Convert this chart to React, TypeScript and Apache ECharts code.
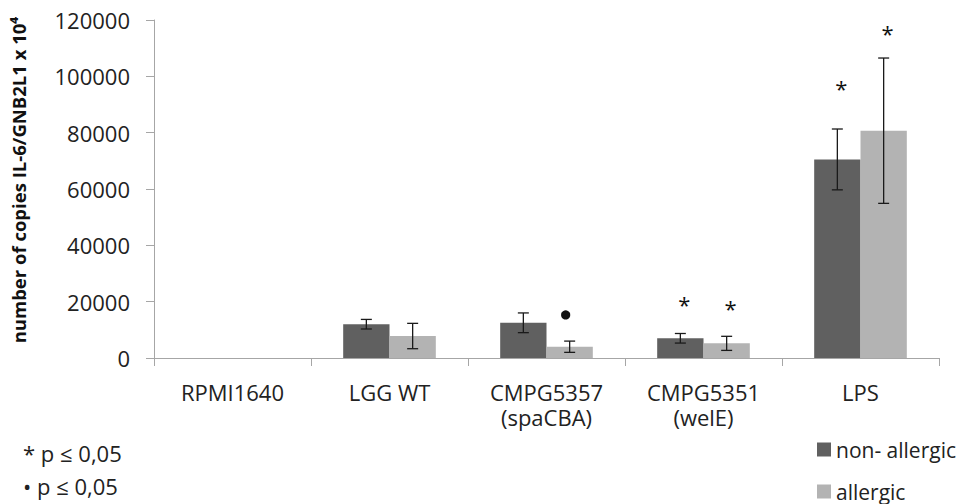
import React, { useEffect, useRef } from "react";
import * as echarts from "echarts";

// Stimulation conditions along the x axis
const categories = ["RPMI1640", "LGG WT", "CMPG5357\n(spaCBA)", "CMPG5351\n(welE)", "LPS"];

// Mean IL-6 copies (per GNB2L1 x 10^4) and standard errors
const nonAllergic = [0, 12000, 12500, 7000, 70500];
const nonAllergicErr = [0, 1700, 3500, 1700, 10800];
const allergic = [0, 7800, 4000, 5200, 80700];
const allergicErr = [0, 4500, 2000, 2500, 25800];

// Significance marks: [category index, height on value axis, mark]
const nonAllergicSig: [number, number, string][] = [
  [3, 19500, "*"],
  [4, 96200, "*"],
];
const allergicSig: [number, number, string][] = [
  [2, 15300, "dot"],
  [3, 18200, "*"],
  [4, 115700, "*"],
];

const yTicks = [0, 20000, 40000, 60000, 80000, 100000, 120000];

const FONT = "'Open Sans', 'Noto Sans', sans-serif";
const DARK = "#606060";
const LIGHT = "#b3b3b3";
const CATEGORY_GAP = 0.41;

// Horizontal offset from category centre to the centre of one of the two bars
function sideOffset(bandWidth: number, side: number) {
  const barWidth = (bandWidth * (1 - CATEGORY_GAP)) / 2;
  return side * (barWidth / 2);
}

function errorSeries(values: number[], errs: number[], side: number) {
  return {
    type: "custom",
    silent: true,
    z: 5,
    data: values.map((v, i) => [i, v, errs[i]]),
    renderItem: (params: any, api: any) => {
      const idx = api.value(0);
      const v = api.value(1);
      const e = api.value(2);
      if (!e) return null;
      const band = api.size([1, 0])[0];
      const dx = sideOffset(band, side);
      const hi = api.coord([idx, v + e]);
      const lo = api.coord([idx, v - e]);
      const x = hi[0] + dx;
      const cap = 5.5;
      const style = { stroke: "#1a1a1a", lineWidth: 1.3 };
      return {
        type: "group",
        children: [
          { type: "line", shape: { x1: x, y1: hi[1], x2: x, y2: lo[1] }, style },
          { type: "line", shape: { x1: x - cap, y1: hi[1], x2: x + cap, y2: hi[1] }, style },
          { type: "line", shape: { x1: x - cap, y1: lo[1], x2: x + cap, y2: lo[1] }, style },
        ],
      };
    },
  };
}

function sigSeries(marks: [number, number, string][], side: number) {
  return {
    type: "custom",
    silent: true,
    z: 6,
    data: marks.map((m) => [m[0], m[1], m[2] === "dot" ? 1 : 0]),
    renderItem: (params: any, api: any) => {
      const idx = api.value(0);
      const v = api.value(1);
      const isDot = api.value(2) === 1;
      const band = api.size([1, 0])[0];
      const p = api.coord([idx, v]);
      const cx = p[0] + sideOffset(band, side);
      if (isDot) {
        return { type: "circle", shape: { cx: cx - 4, cy: p[1], r: 4.6 }, style: { fill: "#111" } };
      }
      return {
        type: "text",
        style: {
          x: cx + 4,
          y: p[1] + 1,
          text: "*",
          fill: "#111",
          font: `22px ${FONT}`,
          align: "center",
          verticalAlign: "middle",
        },
      };
    },
  };
}

function legendEntry(name: string, color: string, top: number) {
  return {
    orient: "vertical",
    left: 817,
    top,
    padding: 0,
    itemWidth: 14,
    itemHeight: 14,
    icon: "rect",
    selectedMode: false,
    textStyle: { fontFamily: FONT, fontSize: 21, color: "#222", lineHeight: 21 },
    data: [{ name, itemStyle: { color } }],
  };
}

export default function App() {
  const ref = useRef<HTMLDivElement>(null);

  useEffect(() => {
    if (!ref.current) return;
    const chart = echarts.init(ref.current, undefined, { renderer: "svg" });
    chart.setOption({
      animation: false,
      backgroundColor: "#ffffff",
      grid: { left: 154, right: 26, top: 20, bottom: 146, containLabel: false },
      legend: [
        legendEntry("non- allergic", DARK, 439),
        legendEntry("allergic", LIGHT, 481),
      ],
      xAxis: {
        type: "category",
        data: categories,
        axisLine: { lineStyle: { color: "#a6a6a6", width: 1 } },
        axisTick: { show: true, length: 8, inside: false, alignWithLabel: false, lineStyle: { color: "#a6a6a6" } },
        axisLabel: {
          fontFamily: FONT,
          fontSize: 22,
          color: "#222",
          lineHeight: 25,
          margin: 21,
          interval: 0,
        },
      },
      yAxis: {
        type: "value",
        min: 0,
        max: 120000,
        interval: 20000,
        splitLine: { show: false },
        axisLine: { show: true, lineStyle: { color: "#a6a6a6", width: 1 } },
        axisTick: { show: true, length: 8, lineStyle: { color: "#a6a6a6" } },
        axisLabel: {
          fontFamily: FONT,
          fontSize: 22,
          color: "#222",
          margin: 24,
          formatter: (v: number) => (yTicks.includes(v) ? String(v) : ""),
        },
      },
      series: [
        {
          name: "non- allergic",
          type: "bar",
          data: nonAllergic,
          barGap: "0%",
          barCategoryGap: `${CATEGORY_GAP * 100}%`,
          itemStyle: { color: DARK },
        },
        {
          name: "allergic",
          type: "bar",
          data: allergic,
          barGap: "0%",
          barCategoryGap: `${CATEGORY_GAP * 100}%`,
          itemStyle: { color: LIGHT },
        },
        errorSeries(nonAllergic, nonAllergicErr, -1),
        errorSeries(allergic, allergicErr, 1),
        sigSeries(nonAllergicSig, -1),
        sigSeries(allergicSig, 1),
      ],
      graphic: [
        {
          type: "text",
          x: 18,
          y: 180,
          rotation: Math.PI / 2,
          style: {
            text: "number of copies IL-6/GNB2L1 x 10\u2074",
            font: `bold 18.5px ${FONT}`,
            fill: "#111",
            align: "center",
            verticalAlign: "middle",
          },
        },
        {
          type: "text",
          x: 23,
          y: 453,
          style: { text: "* p \u2264 0,05", font: `22px ${FONT}`, fill: "#222", verticalAlign: "middle" },
        },
        {
          type: "text",
          x: 23,
          y: 486,
          style: { text: "\u2022 p \u2264 0,05", font: `22px ${FONT}`, fill: "#222", verticalAlign: "middle" },
        },
      ],
    });
    return () => chart.dispose();
  }, []);

  return (
    <div
      ref={ref}
      style={{ position: "fixed", left: 0, top: 0, width: 965, height: 504 }}
    />
  );
}
